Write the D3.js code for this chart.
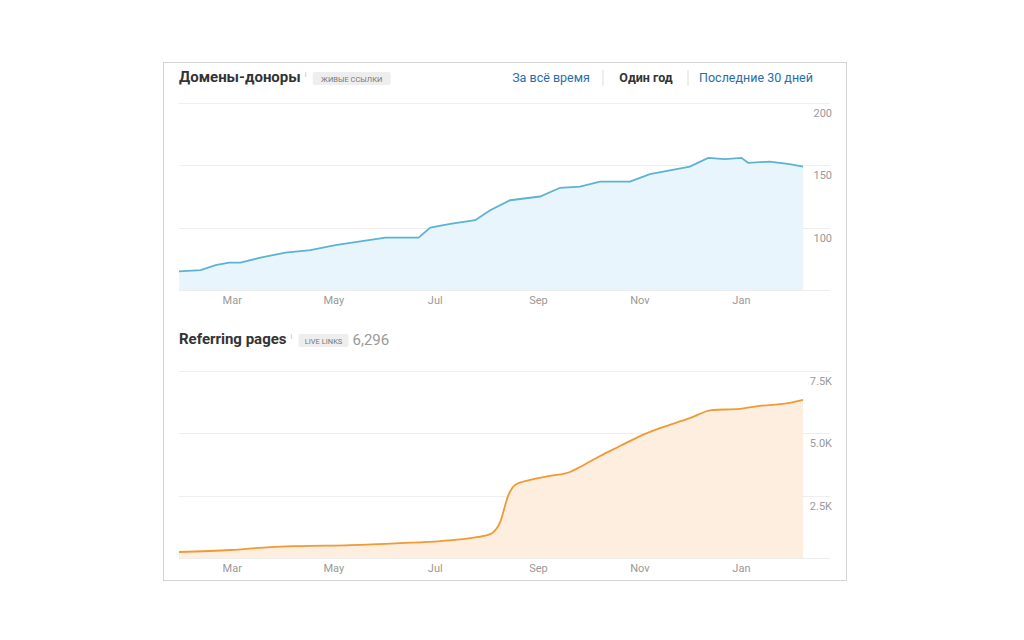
<!DOCTYPE html>
<html><head><meta charset="utf-8">
<script src="https://cdn.jsdelivr.net/npm/d3@7"></script>
<style>
body{margin:0;background:#fff;font-family:Roboto,"Liberation Sans",Arial,sans-serif}
svg text{font-family:Roboto,"Liberation Sans",Arial,sans-serif}
</style></head><body>
<svg id="c" width="1024" height="640"></svg>
<script>
const domainDates = ["2015-01-28", "2016-02-07"];
const monthTicks = ["2015-03-01", "2015-05-01", "2015-07-01", "2015-09-01", "2015-11-01", "2016-01-01"];
const monthLabels = ["Mar", "May", "Jul", "Sep", "Nov", "Jan"];

const domainsDates = ["2015-01-28","2015-02-10","2015-02-19","2015-02-27","2015-03-06","2015-03-18","2015-04-02","2015-04-17","2015-05-02","2015-05-17","2015-06-01","2015-06-21","2015-06-28","2015-07-10","2015-07-25","2015-08-03","2015-08-15","2015-09-02","2015-09-14","2015-09-26","2015-10-08","2015-10-26","2015-11-07","2015-11-19","2015-12-01","2015-12-12","2015-12-22","2016-01-01","2016-01-05","2016-01-18","2016-01-30","2016-02-07"];
const domainsValues = [65,66,70,72,72,76,80,82,86,89,92,92,100,103,106,114,122,125,132,133,137,137,143,146,149,156,155,156,152,153,151,149];
const domainsTicks = [100, 150, 200];

const pagesDates = ["2015-01-28","2015-02-28","2015-03-24","2015-04-11","2015-05-11","2015-06-10","2015-07-04","2015-07-22","2015-08-03","2015-08-09","2015-08-14","2015-08-18","2015-08-27","2015-09-08","2015-09-20","2015-09-26","2015-10-08","2015-10-20","2015-11-01","2015-11-13","2015-12-01","2015-12-14","2015-12-31","2016-01-12","2016-01-30","2016-02-07"];
const pagesValues = [240,320,440,480,520,600,680,800,960,1440,2530,2930,3130,3290,3450,3650,4090,4490,4890,5210,5610,5930,5980,6100,6220,6340];
const pagesTicks = [2500, 5000, 7500];
const pagesTickLabels = ["2.5K", "5.0K", "7.5K"];

const svg = d3.select("#c");
const P = d3.timeParse("%Y-%m-%d");
svg.append("rect").attr("x", 163.5).attr("y", 62.5).attr("width", 683).attr("height", 518)
  .attr("fill", "#fff").attr("stroke", "#d4d4d4");

const x = d3.scaleTime().domain(domainDates.map(P)).range([179, 803]);

function panel(top, bottom, yDomain, ticks, labels, dates, values, stroke, fill, curve) {
  const y = d3.scaleLinear().domain(yDomain).range([bottom, top]);
  const g = svg.append("g");
  g.selectAll(".grid").data([yDomain[0], ...ticks]).join("line")
    .attr("x1", 179).attr("x2", 830).attr("y1", d => Math.round(y(d)) + 0.5).attr("y2", d => Math.round(y(d)) + 0.5)
    .attr("stroke", "#eeeeee");
  const pts = dates.map((d, i) => [P(d), values[i]]);
  g.append("path").datum(pts).attr("fill", fill)
    .attr("d", d3.area().x(d => x(d[0])).y0(bottom).y1(d => y(d[1])).curve(curve));
  g.append("path").datum(pts).attr("fill", "none").attr("stroke", stroke).attr("stroke-width", 1.8)
    .attr("d", d3.line().x(d => x(d[0])).y(d => y(d[1])).curve(curve));
  g.selectAll(".yl").data(ticks).join("text").attr("x", 832).attr("y", d => y(d) + 14)
    .attr("text-anchor", "end").attr("font-size", 11).attr("fill", "#999").text((d, i) => labels[i]);
  g.selectAll(".xl").data(monthTicks).join("text").attr("x", d => x(P(d))).attr("y", bottom + 14)
    .attr("text-anchor", "middle").attr("font-size", 11).attr("fill", "#999").text((d, i) => monthLabels[i]);
}

panel(103, 290, [50, 200], domainsTicks, domainsTicks.map(String), domainsDates, domainsValues,
  "#5cb3d3", "#e8f5fc", d3.curveLinear);
panel(371, 558, [0, 7500], pagesTicks, pagesTickLabels, pagesDates, pagesValues,
  "#ef9a34", "#fdeee0", d3.curveMonotoneX);

// headers
function header(title, badge, tx, ty, badgeW, extra) {
  const t = svg.append("text").attr("x", tx).attr("y", ty).attr("font-size", 15).attr("font-weight", "bold")
    .attr("fill", "#333").text(title);
  const w = t.node().getComputedTextLength();
  svg.append("text").attr("x", tx + w + 4).attr("y", ty - 5).attr("font-size", 7).attr("fill", "#bbb").text("i");
  svg.append("rect").attr("x", tx + w + 12).attr("y", ty - 10).attr("width", badgeW).attr("height", 13).attr("rx", 2).attr("fill", "#eeeeee");
  svg.append("text").attr("x", tx + w + 12 + badgeW / 2).attr("y", ty).attr("text-anchor", "middle")
    .attr("font-size", 7.5).attr("fill", "#777").text(badge);
  if (extra) svg.append("text").attr("x", tx + w + 16 + badgeW).attr("y", ty + 1).attr("font-size", 15).attr("fill", "#999").text(extra);
}
header("Домены-доноры", "ЖИВЫЕ ССЫЛКИ", 179, 82, 78);
header("Referring pages", "LIVE LINKS", 179, 344, 50, "6,296");

const tabs = [["За всё время", 551, "#2a6ea8", "normal"], ["Один год", 646, "#333", "bold"], ["Последние 30 дней", 756, "#2a6ea8", "normal"]];
svg.selectAll(".tab").data(tabs).join("text").attr("x", d => d[1]).attr("y", 82).attr("text-anchor", "middle")
  .attr("font-size", 12.5).attr("fill", d => d[2]).attr("font-weight", d => d[3]).text(d => d[0]);
[603, 688].forEach(xx => svg.append("line").attr("x1", xx).attr("x2", xx).attr("y1", 70).attr("y2", 86).attr("stroke", "#ddd"));
</script>
</body></html>
